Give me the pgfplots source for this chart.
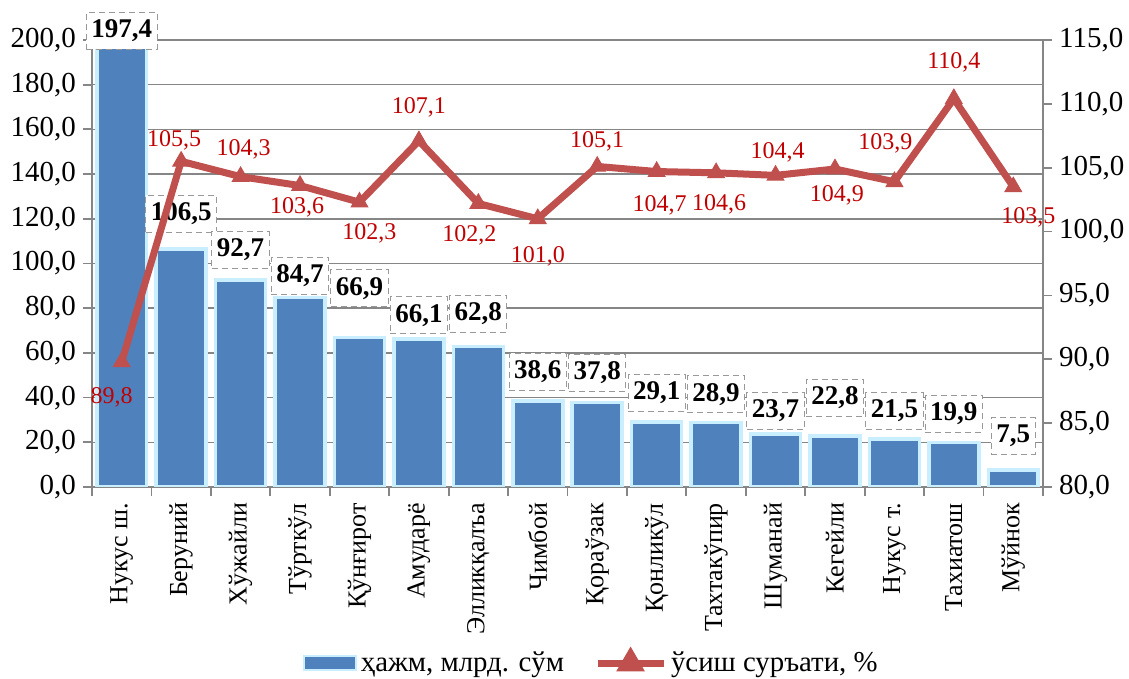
\documentclass[border=0pt]{standalone}
\usepackage{pgfplots}
\pgfplotsset{compat=1.18}
\usepackage{pgfplotstable}
\usepackage{fontspec}
\setmainfont{Liberation Serif}

\definecolor{barblue}{HTML}{4F81BD}
\definecolor{barlight}{HTML}{C9EEFF}
\definecolor{linered}{HTML}{C0504D}
\definecolor{labred}{HTML}{C00000}
\definecolor{axgray}{HTML}{868686}

% x = district index, vol = bln sum, off = label lift (pt)
\pgfplotstableread{
x vol off
0 197.4 -2
1 106.5 8
2 92.7 5.5
3 84.7 1.5
4 66.9 15
5 66.1 2.5
6 62.8 7
7 38.6 5
8 37.8 5.5
9 29.1 5
10 28.9 4.5
11 23.7 2
12 22.8 9.5
13 21.5 4.5
14 19.9 5
15 7.5 7.5
}\bardata

% growth rate, %; dx dy = label offset (pt)
\pgfplotstableread{
x rate dx dy
0 89.8 -5 -18
1 105.5 -3.5 10.5
2 104.3 1.5 13.5
3 103.6 -1.5 -11
4 102.3 5 -15.5
5 107.1 0 17
6 102.2 -4.5 -16
7 101.0 0 -19
8 105.1 0 12.5
9 104.7 1.5 -17
10 104.6 1.5 -16
11 104.4 1 11.5
12 104.9 1 -13
13 103.9 -4.5 19
14 110.4 0 18
15 103.5 7.5 -15
}\ratedata

\begin{document}
\begin{tikzpicture}
\pgfplotsset{
  common/.style={
    scale only axis, width=475.5pt, height=223.5pt,
    xmin=-0.5, xmax=15.5,
    tick align=outside, major tick length=4.5pt,
    axis line style={axgray, line width=0.9pt},
    every tick/.style={axgray, line width=0.9pt},
    yticklabel style={font=\fontsize{14.5}{16}\selectfont,
      /pgf/number format/.cd, fixed, fixed zerofill, precision=1, use comma, assume math mode=true},
    scaled y ticks=false,
  },
}
\begin{axis}[common,
  ymin=0, ymax=200, ytick={0,20,...,200},
  axis x line*=bottom, axis y line*=left,
  ymajorgrids, grid style={axgray, line width=0.75pt},
  xtick={-0.5,0.5,...,15.5},
  x tick label as interval,
  xticklabels={Нукус ш.,Беруний,Хўжайли,Тўрткўл,Қўнғирот,Амударё,Элликқалъа,Чимбой,Қораўзак,Қонликўл,Тахтакўпир,Шуманай,Кегейли,Нукус т.,Тахиатош,Мўйнок},
  x tick label style={rotate=90, anchor=east, font=\fontsize{13}{15}\selectfont},
]
\addplot[ybar, bar width=0.84, fill=barblue, draw=barlight, line width=1.8pt,
  nodes near coords={\pgfmathprintnumber[fixed,fixed zerofill,precision=1,use comma,assume math mode=true]{\pgfplotspointmeta}},
  visualization depends on={\thisrow{off}\as\boff},
  every node near coord/.append style={anchor=south, yshift=\boff pt,
    draw=gray!80, densely dashed, line width=0.5pt, fill=white, text=black,
    font=\fontsize{13.5}{15}\selectfont\bfseries, inner xsep=2.5pt, minimum height=18.5pt},
] table[x=x, y=vol] {\bardata};
\coordinate (bl) at (rel axis cs:0,0);
\end{axis}

\begin{axis}[common,
  ymin=80, ymax=115, ytick={80,85,...,115},
  axis y line*=right, axis x line=none,
  legend style={at={(0.526,-0.394)}, anchor=center, draw=none, legend columns=2,
    font=\fontsize{14.4}{16}\selectfont,
    /tikz/every even column/.append style={column sep=13pt}},
]
\addlegendimage{legend image code/.code={
  \draw[fill=barblue, draw=barlight, line width=1pt] (0pt,-3.5pt) rectangle (26pt,3.5pt);}}
\addlegendentry{ҳажм, млрд. сўм}
\addplot[linered, line width=3.5pt, mark=triangle*, mark size=4.8pt,
  mark options={line width=0.5pt},
  nodes near coords={\pgfmathprintnumber[fixed,fixed zerofill,precision=1,use comma,assume math mode=true]{\pgfplotspointmeta}},
  visualization depends on={\thisrow{dx}\as\lx},
  visualization depends on={\thisrow{dy}\as\ly},
  every node near coord/.append style={anchor=center, xshift=\lx pt, yshift=\ly pt,
    text=labred, font=\fontsize{12}{14}\selectfont},
  legend image code/.code={
    \draw[linered, line width=3.5pt] (0pt,0pt) -- (33pt,0pt);
    \fill[linered] (16.5pt,0pt) +(90:4.8pt) -- +(210:4.8pt) -- +(330:4.8pt) -- cycle;},
] table[x=x, y=rate] {\ratedata};
\addlegendentry{ўсиш суръати, \%}
\end{axis}
\pgfresetboundingbox
\path (bl) ++(-46pt,-96pt) rectangle ++(564.5pt,339.5pt);
\end{tikzpicture}
\end{document}
